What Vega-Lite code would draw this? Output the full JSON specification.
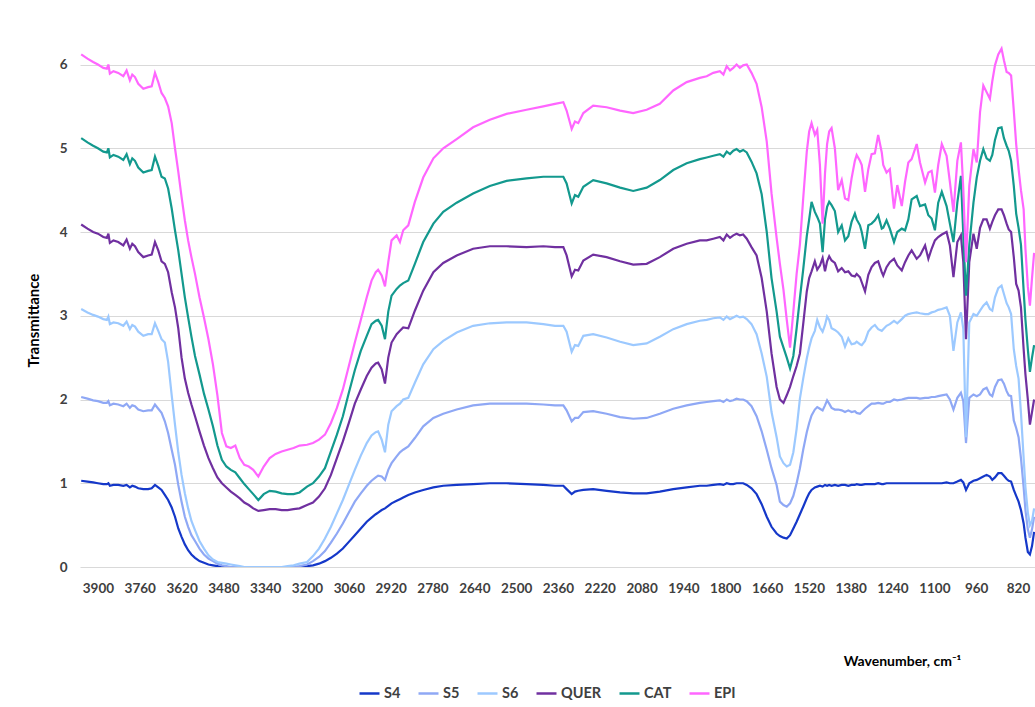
{
"$schema": "https://vega.github.io/schema/vega-lite/v6.json",
"width": 955, "height": 536,
"autosize": {"type": "none"},
"padding": {"left": 80, "top": 31, "right": 0, "bottom": 140},
"background": "white",
"config": {"view": {"stroke": null}, "font": "Lato"},
"data": {"values": [
{"w":3956,"S4":1.03,"S5":2.03,"S6":3.08,"QUER":4.09,"CAT":5.12,"EPI":6.12},
{"w":3935,"S4":1.02,"S5":2.01,"S6":3.04,"QUER":4.04,"CAT":5.07,"EPI":6.07},
{"w":3916,"S4":1.01,"S5":1.99,"S6":3.01,"QUER":4.00,"CAT":5.03,"EPI":6.03},
{"w":3900,"S4":1.00,"S5":1.98,"S6":2.99,"QUER":3.98,"CAT":5.00,"EPI":6.00},
{"w":3882,"S4":0.99,"S5":1.96,"S6":2.96,"QUER":3.94,"CAT":4.96,"EPI":5.96},
{"w":3870,"S4":0.99,"S5":1.96,"S6":2.95,"QUER":3.93,"CAT":4.95,"EPI":5.95},
{"w":3865,"S4":1.00,"S5":1.98,"S6":2.99,"QUER":3.98,"CAT":5.00,"EPI":6.00},
{"w":3860,"S4":0.97,"S5":1.93,"S6":2.90,"QUER":3.87,"CAT":4.89,"EPI":5.89},
{"w":3848,"S4":0.98,"S5":1.95,"S6":2.92,"QUER":3.90,"CAT":4.92,"EPI":5.92},
{"w":3832,"S4":0.98,"S5":1.94,"S6":2.91,"QUER":3.88,"CAT":4.90,"EPI":5.90},
{"w":3815,"S4":0.97,"S5":1.92,"S6":2.88,"QUER":3.84,"CAT":4.86,"EPI":5.86},
{"w":3804,"S4":0.98,"S5":1.95,"S6":2.93,"QUER":3.91,"CAT":4.93,"EPI":5.93},
{"w":3793,"S4":0.95,"S5":1.90,"S6":2.84,"QUER":3.80,"CAT":4.81,"EPI":5.81},
{"w":3785,"S4":0.97,"S5":1.93,"S6":2.89,"QUER":3.86,"CAT":4.88,"EPI":5.88},
{"w":3776,"S4":0.96,"S5":1.92,"S6":2.87,"QUER":3.83,"CAT":4.85,"EPI":5.85},
{"w":3765,"S4":0.94,"S5":1.88,"S6":2.81,"QUER":3.76,"CAT":4.77,"EPI":5.77},
{"w":3748,"S4":0.93,"S5":1.86,"S6":2.76,"QUER":3.70,"CAT":4.71,"EPI":5.71},
{"w":3732,"S4":0.93,"S5":1.87,"S6":2.78,"QUER":3.72,"CAT":4.73,"EPI":5.73},
{"w":3720,"S4":0.94,"S5":1.87,"S6":2.78,"QUER":3.73,"CAT":4.74,"EPI":5.74},
{"w":3709,"S4":0.98,"S5":1.94,"S6":2.91,"QUER":3.88,"CAT":4.90,"EPI":5.90},
{"w":3698,"S4":0.95,"S5":1.89,"S6":2.82,"QUER":3.78,"CAT":4.79,"EPI":5.79},
{"w":3687,"S4":0.92,"S5":1.84,"S6":2.72,"QUER":3.65,"CAT":4.66,"EPI":5.66},
{"w":3676,"S4":0.86,"S5":1.74,"S6":2.68,"QUER":3.62,"CAT":4.64,"EPI":5.60},
{"w":3665,"S4":0.80,"S5":1.60,"S6":2.45,"QUER":3.52,"CAT":4.52,"EPI":5.50},
{"w":3653,"S4":0.71,"S5":1.40,"S6":2.05,"QUER":3.28,"CAT":4.28,"EPI":5.30},
{"w":3642,"S4":0.60,"S5":1.22,"S6":1.70,"QUER":3.10,"CAT":4.02,"EPI":5.00},
{"w":3631,"S4":0.46,"S5":0.98,"S6":1.37,"QUER":2.85,"CAT":3.78,"EPI":4.72},
{"w":3620,"S4":0.36,"S5":0.78,"S6":1.10,"QUER":2.50,"CAT":3.50,"EPI":4.42},
{"w":3609,"S4":0.27,"S5":0.60,"S6":0.88,"QUER":2.25,"CAT":3.22,"EPI":4.14},
{"w":3598,"S4":0.20,"S5":0.48,"S6":0.70,"QUER":2.08,"CAT":2.98,"EPI":3.90},
{"w":3587,"S4":0.15,"S5":0.38,"S6":0.55,"QUER":1.94,"CAT":2.75,"EPI":3.70},
{"w":3575,"S4":0.11,"S5":0.31,"S6":0.44,"QUER":1.80,"CAT":2.52,"EPI":3.50},
{"w":3560,"S4":0.07,"S5":0.22,"S6":0.31,"QUER":1.62,"CAT":2.30,"EPI":3.22},
{"w":3545,"S4":0.05,"S5":0.15,"S6":0.22,"QUER":1.45,"CAT":2.07,"EPI":2.98},
{"w":3530,"S4":0.03,"S5":0.10,"S6":0.14,"QUER":1.30,"CAT":1.88,"EPI":2.72},
{"w":3515,"S4":0.02,"S5":0.07,"S6":0.09,"QUER":1.18,"CAT":1.68,"EPI":2.42},
{"w":3500,"S4":0.01,"S5":0.04,"S6":0.06,"QUER":1.07,"CAT":1.45,"EPI":2.05},
{"w":3485,"S4":0.00,"S5":0.02,"S6":0.05,"QUER":1.00,"CAT":1.28,"EPI":1.60},
{"w":3470,"S4":0.00,"S5":0.01,"S6":0.04,"QUER":0.95,"CAT":1.20,"EPI":1.44},
{"w":3455,"S4":0.00,"S5":0.00,"S6":0.03,"QUER":0.90,"CAT":1.16,"EPI":1.42},
{"w":3440,"S4":0.00,"S5":0.00,"S6":0.02,"QUER":0.86,"CAT":1.13,"EPI":1.45},
{"w":3425,"S4":0.00,"S5":0.00,"S6":0.01,"QUER":0.82,"CAT":1.06,"EPI":1.30},
{"w":3410,"S4":0.00,"S5":0.00,"S6":0.00,"QUER":0.77,"CAT":0.99,"EPI":1.22},
{"w":3395,"S4":0.00,"S5":0.00,"S6":0.00,"QUER":0.74,"CAT":0.93,"EPI":1.20},
{"w":3380,"S4":0.00,"S5":0.00,"S6":0.00,"QUER":0.70,"CAT":0.87,"EPI":1.16},
{"w":3363,"S4":0.00,"S5":0.00,"S6":0.00,"QUER":0.67,"CAT":0.80,"EPI":1.08},
{"w":3345,"S4":0.00,"S5":0.00,"S6":0.00,"QUER":0.68,"CAT":0.87,"EPI":1.20},
{"w":3325,"S4":0.00,"S5":0.00,"S6":0.00,"QUER":0.69,"CAT":0.91,"EPI":1.30},
{"w":3305,"S4":0.00,"S5":0.00,"S6":0.00,"QUER":0.69,"CAT":0.90,"EPI":1.35},
{"w":3285,"S4":0.00,"S5":0.00,"S6":0.00,"QUER":0.68,"CAT":0.88,"EPI":1.38},
{"w":3265,"S4":0.00,"S5":0.00,"S6":0.01,"QUER":0.68,"CAT":0.87,"EPI":1.40},
{"w":3245,"S4":0.00,"S5":0.00,"S6":0.02,"QUER":0.69,"CAT":0.87,"EPI":1.42},
{"w":3225,"S4":0.00,"S5":0.01,"S6":0.04,"QUER":0.70,"CAT":0.89,"EPI":1.45},
{"w":3200,"S4":0.01,"S5":0.03,"S6":0.06,"QUER":0.74,"CAT":0.96,"EPI":1.46},
{"w":3180,"S4":0.02,"S5":0.07,"S6":0.13,"QUER":0.77,"CAT":1.00,"EPI":1.48},
{"w":3160,"S4":0.04,"S5":0.12,"S6":0.22,"QUER":0.84,"CAT":1.08,"EPI":1.52},
{"w":3140,"S4":0.07,"S5":0.19,"S6":0.34,"QUER":0.94,"CAT":1.18,"EPI":1.58},
{"w":3120,"S4":0.11,"S5":0.29,"S6":0.48,"QUER":1.10,"CAT":1.38,"EPI":1.72},
{"w":3100,"S4":0.16,"S5":0.40,"S6":0.64,"QUER":1.30,"CAT":1.58,"EPI":1.90},
{"w":3080,"S4":0.22,"S5":0.52,"S6":0.80,"QUER":1.50,"CAT":1.80,"EPI":2.12},
{"w":3060,"S4":0.30,"S5":0.65,"S6":0.98,"QUER":1.72,"CAT":2.08,"EPI":2.40},
{"w":3040,"S4":0.38,"S5":0.78,"S6":1.16,"QUER":1.95,"CAT":2.35,"EPI":2.68},
{"w":3020,"S4":0.46,"S5":0.88,"S6":1.33,"QUER":2.12,"CAT":2.58,"EPI":2.95},
{"w":3000,"S4":0.54,"S5":0.97,"S6":1.48,"QUER":2.28,"CAT":2.76,"EPI":3.22},
{"w":2984,"S4":0.59,"S5":1.03,"S6":1.57,"QUER":2.38,"CAT":2.90,"EPI":3.42},
{"w":2970,"S4":0.63,"S5":1.07,"S6":1.61,"QUER":2.43,"CAT":2.94,"EPI":3.52},
{"w":2962,"S4":0.65,"S5":1.09,"S6":1.62,"QUER":2.44,"CAT":2.95,"EPI":3.55},
{"w":2950,"S4":0.68,"S5":1.08,"S6":1.52,"QUER":2.36,"CAT":2.88,"EPI":3.48},
{"w":2939,"S4":0.70,"S5":1.04,"S6":1.37,"QUER":2.19,"CAT":2.72,"EPI":3.35},
{"w":2928,"S4":0.73,"S5":1.16,"S6":1.70,"QUER":2.50,"CAT":3.05,"EPI":3.64},
{"w":2917,"S4":0.76,"S5":1.24,"S6":1.86,"QUER":2.68,"CAT":3.24,"EPI":3.90},
{"w":2900,"S4":0.79,"S5":1.32,"S6":1.92,"QUER":2.78,"CAT":3.32,"EPI":3.96},
{"w":2889,"S4":0.81,"S5":1.37,"S6":1.95,"QUER":2.82,"CAT":3.36,"EPI":3.88},
{"w":2878,"S4":0.83,"S5":1.40,"S6":2.00,"QUER":2.86,"CAT":3.39,"EPI":4.02},
{"w":2861,"S4":0.86,"S5":1.44,"S6":2.02,"QUER":2.85,"CAT":3.42,"EPI":4.08},
{"w":2839,"S4":0.89,"S5":1.54,"S6":2.20,"QUER":3.06,"CAT":3.62,"EPI":4.36},
{"w":2811,"S4":0.92,"S5":1.68,"S6":2.42,"QUER":3.30,"CAT":3.88,"EPI":4.65},
{"w":2777,"S4":0.95,"S5":1.78,"S6":2.60,"QUER":3.52,"CAT":4.10,"EPI":4.88},
{"w":2744,"S4":0.97,"S5":1.83,"S6":2.70,"QUER":3.63,"CAT":4.24,"EPI":5.00},
{"w":2699,"S4":0.98,"S5":1.88,"S6":2.80,"QUER":3.72,"CAT":4.35,"EPI":5.11},
{"w":2644,"S4":0.99,"S5":1.93,"S6":2.88,"QUER":3.80,"CAT":4.46,"EPI":5.25},
{"w":2588,"S4":1.00,"S5":1.95,"S6":2.91,"QUER":3.83,"CAT":4.55,"EPI":5.34},
{"w":2532,"S4":1.00,"S5":1.95,"S6":2.92,"QUER":3.83,"CAT":4.61,"EPI":5.41},
{"w":2465,"S4":0.99,"S5":1.95,"S6":2.92,"QUER":3.82,"CAT":4.64,"EPI":5.46},
{"w":2409,"S4":0.98,"S5":1.94,"S6":2.90,"QUER":3.83,"CAT":4.66,"EPI":5.50},
{"w":2370,"S4":0.97,"S5":1.93,"S6":2.88,"QUER":3.82,"CAT":4.66,"EPI":5.53},
{"w":2342,"S4":0.97,"S5":1.93,"S6":2.88,"QUER":3.82,"CAT":4.66,"EPI":5.55},
{"w":2331,"S4":0.93,"S5":1.87,"S6":2.81,"QUER":3.72,"CAT":4.58,"EPI":5.45},
{"w":2314,"S4":0.87,"S5":1.74,"S6":2.57,"QUER":3.47,"CAT":4.34,"EPI":5.23},
{"w":2303,"S4":0.90,"S5":1.78,"S6":2.65,"QUER":3.55,"CAT":4.44,"EPI":5.32},
{"w":2292,"S4":0.91,"S5":1.78,"S6":2.64,"QUER":3.54,"CAT":4.42,"EPI":5.30},
{"w":2275,"S4":0.92,"S5":1.85,"S6":2.76,"QUER":3.66,"CAT":4.54,"EPI":5.42},
{"w":2242,"S4":0.93,"S5":1.86,"S6":2.78,"QUER":3.73,"CAT":4.62,"EPI":5.51},
{"w":2197,"S4":0.91,"S5":1.83,"S6":2.74,"QUER":3.70,"CAT":4.58,"EPI":5.49},
{"w":2152,"S4":0.89,"S5":1.79,"S6":2.69,"QUER":3.65,"CAT":4.53,"EPI":5.45},
{"w":2108,"S4":0.88,"S5":1.77,"S6":2.65,"QUER":3.61,"CAT":4.49,"EPI":5.42},
{"w":2063,"S4":0.88,"S5":1.78,"S6":2.67,"QUER":3.62,"CAT":4.53,"EPI":5.46},
{"w":2019,"S4":0.90,"S5":1.83,"S6":2.75,"QUER":3.70,"CAT":4.62,"EPI":5.53},
{"w":1974,"S4":0.93,"S5":1.89,"S6":2.84,"QUER":3.80,"CAT":4.74,"EPI":5.69},
{"w":1929,"S4":0.95,"S5":1.93,"S6":2.90,"QUER":3.86,"CAT":4.82,"EPI":5.79},
{"w":1885,"S4":0.97,"S5":1.96,"S6":2.94,"QUER":3.90,"CAT":4.87,"EPI":5.84},
{"w":1862,"S4":0.97,"S5":1.97,"S6":2.95,"QUER":3.90,"CAT":4.89,"EPI":5.86},
{"w":1840,"S4":0.98,"S5":1.98,"S6":2.97,"QUER":3.92,"CAT":4.91,"EPI":5.90},
{"w":1818,"S4":0.99,"S5":1.99,"S6":2.98,"QUER":3.94,"CAT":4.93,"EPI":5.92},
{"w":1806,"S4":0.98,"S5":1.97,"S6":2.95,"QUER":3.90,"CAT":4.90,"EPI":5.88},
{"w":1795,"S4":1.00,"S5":2.00,"S6":2.99,"QUER":3.97,"CAT":4.96,"EPI":5.98},
{"w":1784,"S4":0.99,"S5":1.98,"S6":2.96,"QUER":3.93,"CAT":4.93,"EPI":5.93},
{"w":1773,"S4":0.99,"S5":1.99,"S6":2.98,"QUER":3.96,"CAT":4.97,"EPI":5.96},
{"w":1762,"S4":1.00,"S5":2.01,"S6":3.00,"QUER":3.98,"CAT":4.99,"EPI":6.00},
{"w":1751,"S4":1.00,"S5":2.00,"S6":2.98,"QUER":3.96,"CAT":4.96,"EPI":5.96},
{"w":1740,"S4":1.00,"S5":2.00,"S6":2.99,"QUER":3.97,"CAT":4.98,"EPI":5.99},
{"w":1728,"S4":0.98,"S5":1.98,"S6":2.96,"QUER":3.92,"CAT":4.95,"EPI":6.00},
{"w":1712,"S4":0.94,"S5":1.92,"S6":2.90,"QUER":3.82,"CAT":4.84,"EPI":5.90},
{"w":1695,"S4":0.87,"S5":1.80,"S6":2.78,"QUER":3.72,"CAT":4.70,"EPI":5.77},
{"w":1678,"S4":0.75,"S5":1.62,"S6":2.55,"QUER":3.45,"CAT":4.45,"EPI":5.49},
{"w":1661,"S4":0.60,"S5":1.40,"S6":2.27,"QUER":3.05,"CAT":4.00,"EPI":5.08},
{"w":1645,"S4":0.48,"S5":1.18,"S6":1.85,"QUER":2.55,"CAT":3.45,"EPI":4.46},
{"w":1628,"S4":0.40,"S5":0.98,"S6":1.55,"QUER":2.15,"CAT":3.05,"EPI":3.93},
{"w":1617,"S4":0.37,"S5":0.78,"S6":1.32,"QUER":2.00,"CAT":2.75,"EPI":3.62},
{"w":1605,"S4":0.35,"S5":0.74,"S6":1.24,"QUER":1.96,"CAT":2.62,"EPI":3.31},
{"w":1594,"S4":0.34,"S5":0.72,"S6":1.20,"QUER":2.05,"CAT":2.50,"EPI":2.95},
{"w":1583,"S4":0.38,"S5":0.76,"S6":1.22,"QUER":2.15,"CAT":2.37,"EPI":2.62},
{"w":1572,"S4":0.46,"S5":0.85,"S6":1.37,"QUER":2.28,"CAT":2.52,"EPI":3.05},
{"w":1561,"S4":0.54,"S5":1.00,"S6":1.65,"QUER":2.40,"CAT":2.85,"EPI":3.50},
{"w":1550,"S4":0.63,"S5":1.18,"S6":2.01,"QUER":2.55,"CAT":3.21,"EPI":3.85},
{"w":1539,"S4":0.72,"S5":1.40,"S6":2.25,"QUER":2.90,"CAT":3.55,"EPI":4.40},
{"w":1527,"S4":0.82,"S5":1.61,"S6":2.49,"QUER":3.29,"CAT":3.95,"EPI":4.96},
{"w":1519,"S4":0.88,"S5":1.72,"S6":2.62,"QUER":3.45,"CAT":4.15,"EPI":5.20},
{"w":1511,"S4":0.92,"S5":1.81,"S6":2.73,"QUER":3.53,"CAT":4.36,"EPI":5.30},
{"w":1500,"S4":0.95,"S5":1.88,"S6":2.82,"QUER":3.65,"CAT":4.24,"EPI":5.16},
{"w":1492,"S4":0.96,"S5":1.91,"S6":2.95,"QUER":3.55,"CAT":4.18,"EPI":5.22},
{"w":1483,"S4":0.97,"S5":1.89,"S6":2.86,"QUER":3.60,"CAT":4.10,"EPI":4.80},
{"w":1474,"S4":0.96,"S5":1.87,"S6":2.81,"QUER":3.69,"CAT":3.76,"EPI":4.10},
{"w":1466,"S4":0.98,"S5":1.93,"S6":2.89,"QUER":3.53,"CAT":4.15,"EPI":4.70},
{"w":1459,"S4":0.97,"S5":1.99,"S6":2.99,"QUER":3.65,"CAT":4.30,"EPI":5.05},
{"w":1452,"S4":0.98,"S5":1.95,"S6":2.95,"QUER":3.71,"CAT":4.36,"EPI":5.20},
{"w":1444,"S4":0.97,"S5":1.90,"S6":2.85,"QUER":3.66,"CAT":4.32,"EPI":5.24},
{"w":1433,"S4":0.98,"S5":1.88,"S6":2.83,"QUER":3.63,"CAT":4.25,"EPI":5.00},
{"w":1422,"S4":0.97,"S5":1.88,"S6":2.80,"QUER":3.53,"CAT":4.00,"EPI":4.50},
{"w":1410,"S4":0.98,"S5":1.87,"S6":2.75,"QUER":3.57,"CAT":4.08,"EPI":4.62},
{"w":1399,"S4":0.98,"S5":1.85,"S6":2.63,"QUER":3.52,"CAT":3.90,"EPI":4.40},
{"w":1388,"S4":0.97,"S5":1.87,"S6":2.73,"QUER":3.53,"CAT":3.95,"EPI":4.38},
{"w":1377,"S4":0.98,"S5":1.85,"S6":2.66,"QUER":3.48,"CAT":4.12,"EPI":4.64},
{"w":1366,"S4":0.98,"S5":1.86,"S6":2.67,"QUER":3.47,"CAT":4.22,"EPI":4.85},
{"w":1360,"S4":0.99,"S5":1.84,"S6":2.69,"QUER":3.50,"CAT":4.15,"EPI":4.92},
{"w":1349,"S4":0.98,"S5":1.83,"S6":2.66,"QUER":3.46,"CAT":4.08,"EPI":4.85},
{"w":1343,"S4":0.98,"S5":1.85,"S6":2.65,"QUER":3.40,"CAT":4.00,"EPI":4.80},
{"w":1332,"S4":0.99,"S5":1.89,"S6":2.70,"QUER":3.29,"CAT":3.80,"EPI":4.48},
{"w":1321,"S4":0.99,"S5":1.92,"S6":2.81,"QUER":3.49,"CAT":4.08,"EPI":4.75},
{"w":1310,"S4":0.99,"S5":1.95,"S6":2.86,"QUER":3.58,"CAT":4.10,"EPI":4.93},
{"w":1299,"S4":0.99,"S5":1.95,"S6":2.89,"QUER":3.63,"CAT":4.14,"EPI":4.94},
{"w":1288,"S4":1.00,"S5":1.96,"S6":2.84,"QUER":3.65,"CAT":4.20,"EPI":5.16},
{"w":1276,"S4":0.99,"S5":1.95,"S6":2.82,"QUER":3.52,"CAT":4.04,"EPI":4.95},
{"w":1271,"S4":0.99,"S5":1.95,"S6":2.84,"QUER":3.48,"CAT":4.05,"EPI":4.80},
{"w":1260,"S4":1.00,"S5":1.97,"S6":2.88,"QUER":3.58,"CAT":4.14,"EPI":4.71},
{"w":1249,"S4":1.00,"S5":1.97,"S6":2.90,"QUER":3.64,"CAT":4.04,"EPI":4.75},
{"w":1235,"S4":1.00,"S5":2.00,"S6":2.94,"QUER":3.68,"CAT":3.88,"EPI":4.28},
{"w":1224,"S4":1.00,"S5":1.99,"S6":2.91,"QUER":3.60,"CAT":4.00,"EPI":4.56},
{"w":1209,"S4":1.00,"S5":2.00,"S6":2.96,"QUER":3.54,"CAT":4.04,"EPI":4.31},
{"w":1198,"S4":1.00,"S5":2.01,"S6":3.00,"QUER":3.64,"CAT":4.02,"EPI":4.60},
{"w":1187,"S4":1.00,"S5":2.02,"S6":3.02,"QUER":3.72,"CAT":4.15,"EPI":4.83},
{"w":1176,"S4":1.00,"S5":2.02,"S6":3.03,"QUER":3.78,"CAT":4.39,"EPI":4.87},
{"w":1159,"S4":1.00,"S5":2.02,"S6":3.04,"QUER":3.68,"CAT":4.43,"EPI":5.05},
{"w":1148,"S4":1.00,"S5":2.01,"S6":3.03,"QUER":3.72,"CAT":4.31,"EPI":4.83},
{"w":1131,"S4":1.00,"S5":2.02,"S6":3.02,"QUER":3.84,"CAT":4.33,"EPI":4.59},
{"w":1120,"S4":1.00,"S5":2.02,"S6":3.02,"QUER":3.68,"CAT":4.20,"EPI":4.71},
{"w":1109,"S4":1.00,"S5":2.03,"S6":3.04,"QUER":3.80,"CAT":4.16,"EPI":4.73},
{"w":1098,"S4":1.00,"S5":2.03,"S6":3.05,"QUER":3.90,"CAT":4.02,"EPI":4.47},
{"w":1087,"S4":1.00,"S5":2.04,"S6":3.07,"QUER":3.94,"CAT":4.35,"EPI":4.80},
{"w":1075,"S4":1.00,"S5":2.05,"S6":3.08,"QUER":3.97,"CAT":4.48,"EPI":5.05},
{"w":1059,"S4":1.01,"S5":2.06,"S6":3.10,"QUER":4.00,"CAT":4.31,"EPI":4.91},
{"w":1048,"S4":1.00,"S5":2.00,"S6":3.00,"QUER":3.84,"CAT":4.10,"EPI":4.60},
{"w":1036,"S4":1.00,"S5":1.88,"S6":2.58,"QUER":3.46,"CAT":3.88,"EPI":4.24},
{"w":1023,"S4":1.02,"S5":2.02,"S6":2.92,"QUER":3.88,"CAT":4.35,"EPI":4.85},
{"w":1011,"S4":1.04,"S5":2.08,"S6":3.04,"QUER":3.96,"CAT":4.67,"EPI":5.07},
{"w":1003,"S4":1.01,"S5":1.98,"S6":2.84,"QUER":3.64,"CAT":3.96,"EPI":4.51},
{"w":994,"S4":0.92,"S5":1.48,"S6":1.55,"QUER":2.72,"CAT":3.24,"EPI":3.64},
{"w":983,"S4":1.00,"S5":2.02,"S6":2.92,"QUER":3.64,"CAT":3.84,"EPI":4.55},
{"w":969,"S4":1.03,"S5":2.06,"S6":3.02,"QUER":3.98,"CAT":4.35,"EPI":4.99},
{"w":958,"S4":1.04,"S5":2.04,"S6":3.00,"QUER":3.80,"CAT":4.65,"EPI":4.83},
{"w":947,"S4":1.06,"S5":2.06,"S6":3.06,"QUER":4.05,"CAT":4.85,"EPI":5.43},
{"w":936,"S4":1.08,"S5":2.12,"S6":3.12,"QUER":4.15,"CAT":4.99,"EPI":5.75},
{"w":925,"S4":1.10,"S5":2.14,"S6":3.16,"QUER":4.15,"CAT":4.88,"EPI":5.67},
{"w":914,"S4":1.08,"S5":2.06,"S6":3.08,"QUER":4.04,"CAT":4.85,"EPI":5.59},
{"w":906,"S4":1.04,"S5":2.04,"S6":3.06,"QUER":4.12,"CAT":4.92,"EPI":5.80},
{"w":897,"S4":1.07,"S5":2.15,"S6":3.22,"QUER":4.20,"CAT":5.10,"EPI":5.99},
{"w":886,"S4":1.12,"S5":2.23,"S6":3.33,"QUER":4.27,"CAT":5.24,"EPI":6.12},
{"w":875,"S4":1.12,"S5":2.24,"S6":3.36,"QUER":4.27,"CAT":5.25,"EPI":6.19},
{"w":867,"S4":1.09,"S5":2.19,"S6":3.26,"QUER":4.20,"CAT":5.12,"EPI":6.05},
{"w":858,"S4":1.05,"S5":2.10,"S6":3.15,"QUER":4.10,"CAT":5.03,"EPI":5.91},
{"w":851,"S4":1.03,"S5":2.05,"S6":3.10,"QUER":4.03,"CAT":4.97,"EPI":5.90},
{"w":843,"S4":1.02,"S5":2.04,"S6":3.02,"QUER":4.00,"CAT":4.85,"EPI":5.87},
{"w":834,"S4":0.92,"S5":1.75,"S6":2.60,"QUER":3.70,"CAT":4.55,"EPI":5.45},
{"w":826,"S4":0.85,"S5":1.66,"S6":2.40,"QUER":3.38,"CAT":4.22,"EPI":5.05},
{"w":818,"S4":0.78,"S5":1.55,"S6":2.25,"QUER":3.30,"CAT":4.05,"EPI":4.75},
{"w":810,"S4":0.68,"S5":1.30,"S6":1.84,"QUER":3.10,"CAT":3.85,"EPI":4.50},
{"w":801,"S4":0.52,"S5":0.95,"S6":1.30,"QUER":2.60,"CAT":3.30,"EPI":4.27},
{"w":795,"S4":0.35,"S5":0.68,"S6":0.95,"QUER":2.30,"CAT":2.95,"EPI":3.80},
{"w":787,"S4":0.18,"S5":0.45,"S6":0.65,"QUER":2.00,"CAT":2.60,"EPI":3.35},
{"w":780,"S4":0.15,"S5":0.35,"S6":0.50,"QUER":1.70,"CAT":2.33,"EPI":3.12},
{"w":773,"S4":0.25,"S5":0.45,"S6":0.55,"QUER":1.85,"CAT":2.50,"EPI":3.45},
{"w":766,"S4":0.42,"S5":0.60,"S6":0.70,"QUER":2.00,"CAT":2.65,"EPI":3.75}
]},
"transform": [{"fold": ["S4","S5","S6","QUER","CAT","EPI"], "as": ["series","t"]}],
"mark": {"type": "line", "strokeWidth": 2.2, "clip": true},
"encoding": {
  "x": {"field": "w", "type": "quantitative",
    "scale": {"domain": [763, 3960], "reverse": true, "nice": false, "zero": false},
    "axis": {"values": [3900,3760,3620,3480,3340,3200,3060,2920,2780,2640,2500,2360,2220,2080,1940,1800,1660,1520,1380,1240,1100,960,820],
      "format": "d",
      "grid": false, "domain": false, "ticks": false, "labelPadding": 14, "labelFontSize": 13.5, "labelFontWeight": "bold", "labelColor": "#404040", "labelFont": "Lato", "labelFlush": false, "labelOverlap": false, "labelBound": false,
      "title": "Wavenumber, cm⁻¹", "titleX": 822, "titleY": 94, "titleAlign": "center", "titleBaseline": "middle", "titleFontSize": 14, "titleFontWeight": "bold", "titleColor": "#000000", "titleFont": "Lato"}},
  "y": {"field": "t", "type": "quantitative",
    "scale": {"domain": [0, 6.4], "nice": false},
    "axis": {"values": [0,1,2,3,4,5,6], "grid": true, "gridColor": "#d9d9d9", "gridWidth": 1, "domain": false, "ticks": false, "labelPadding": 13, "labelFontSize": 13.5, "labelFontWeight": "bold", "labelColor": "#404040", "labelFont": "Lato",
      "title": "Transmittance", "titleX": -47, "titleY": 289, "titleAngle": 270, "titleAlign": "center", "titleBaseline": "middle", "titleFontSize": 15, "titleFontWeight": "bold", "titleColor": "#000000", "titleFont": "Lato"}},
  "color": {"field": "series", "type": "nominal",
    "scale": {"domain": ["S4","S5","S6","QUER","CAT","EPI"], "range": ["#1538c9","#8fa8f5","#9cc9ff","#7030a0","#13998e","#ff66ff"]},
    "legend": {"orient": "none", "legendX": 278, "legendY": 651, "direction": "horizontal", "columns": 6, "title": null, "padding": 0,
      "symbolType": "stroke", "symbolSize": 400, "symbolStrokeWidth": 2.5, "labelFontSize": 14.5, "labelFontWeight": "bold", "labelColor": "#404040", "labelFont": "Lato", "labelOffset": 3, "columnPadding": 12}}
}
}
